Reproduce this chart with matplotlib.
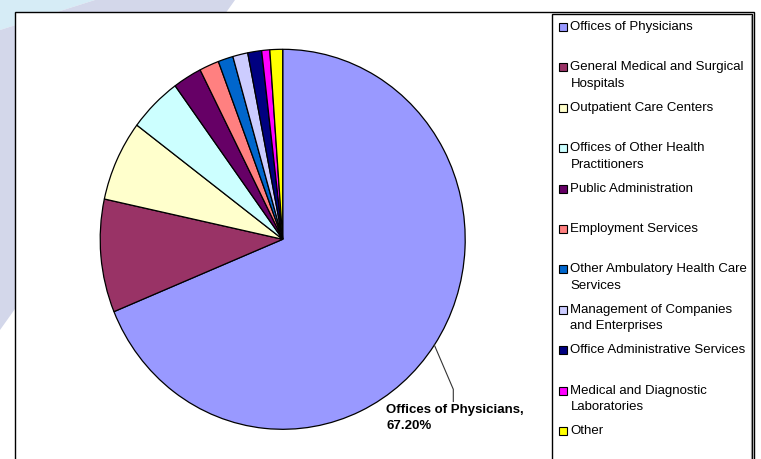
import numpy as np
import matplotlib
matplotlib.use("Agg")
import matplotlib.pyplot as plt
from matplotlib.patches import Rectangle, Polygon
from matplotlib.lines import Line2D

plt.rcParams['font.family'] = ['Liberation Sans', 'DejaVu Sans']

# Employment by industry (share of total)
categories = [
    "Offices of Physicians",
    "General Medical and Surgical Hospitals",
    "Outpatient Care Centers",
    "Offices of Other Health Practitioners",
    "Public Administration",
    "Employment Services",
    "Other Ambulatory Health Care Services",
    "Management of Companies and Enterprises",
    "Office Administrative Services",
    "Medical and Diagnostic Laboratories",
    "Other",
]
values = [67.2, 9.4, 6.7, 4.6, 2.5, 1.7, 1.3, 1.3, 1.2, 0.7, 1.1]
legend_labels = [
    "Offices of Physicians",
    "General Medical and Surgical\nHospitals",
    "Outpatient Care Centers",
    "Offices of Other Health\nPractitioners",
    "Public Administration",
    "Employment Services",
    "Other Ambulatory Health Care\nServices",
    "Management of Companies\nand Enterprises",
    "Office Administrative Services",
    "Medical and Diagnostic\nLaboratories",
    "Other",
]
colors = ["#9999FF", "#993366", "#FFFFCC", "#CCFFFF", "#660066", "#FF8080",
          "#0066CC", "#CCCCFF", "#000080", "#FF00FF", "#FFFF00"]

W, H = 761, 459
fig = plt.figure(figsize=(W / 100, H / 100), dpi=100)
fig.patch.set_facecolor("white")


def px(x, y):
    """Pixel position measured from the top-left corner -> display coords."""
    return (x, H - y)


# faint page decoration behind the chart
fig.patches.append(Polygon([px(0, 0), px(95, 0), px(0, 30)], closed=True,
                           transform=None, facecolor="#d6ecf6", edgecolor="none", zorder=0))
fig.patches.append(Polygon([px(95, 0), px(235, 0), px(0, 330), px(0, 30)], closed=True,
                           transform=None, facecolor="#d3d7ea", edgecolor="none", zorder=0))

# chart area
fig.patches.append(Rectangle(px(15, 480), 739, 468, transform=None,
                             facecolor="white", edgecolor="black", linewidth=1.0, zorder=1))

# pie
cx, cy, rx, ry = 282.7, 239.3, 182.5, 190.0
ax = fig.add_axes([(cx - rx) / W, (H - cy - ry) / H, 2 * rx / W, 2 * ry / H])
ax.set_zorder(2)
wedges, _ = ax.pie(values, colors=colors, startangle=90, counterclock=False,
                   wedgeprops=dict(edgecolor="black", linewidth=0.9))
ax.set_aspect("auto")
ax.set_xlim(-1, 1)
ax.set_ylim(-1, 1)
ax.axis("off")

# callout for the largest slice
w0 = wedges[0]
mid = np.deg2rad((w0.theta1 + w0.theta2) / 2)
start = ax.transData.transform((np.cos(mid), np.sin(mid)))
elbow = px(453.3, 389.3)
end = px(453.3, 401.5)
fig.lines.append(Line2D([start[0], elbow[0], end[0]], [start[1], elbow[1], end[1]],
                        transform=None, color="#333333", linewidth=0.8, zorder=3))
fig.text(386.5 / W, (H - 404) / H, f"{categories[0]},\n{values[0]:.2f}%",
         ha="left", va="top", fontsize=9.5, fontweight="bold", linespacing=1.45, zorder=4)

# legend
lx0, lx1, ltop = 552, 752, 14
fig.patches.append(Rectangle(px(lx0, 480), lx1 - lx0, 480 - ltop, transform=None,
                             facecolor="white", edgecolor="black", linewidth=1.0, zorder=3))
fig.lines.append(Line2D([lx1 - 1.5, lx1 - 1.5], [H - ltop - 2, 0], transform=None,
                        color="#999999", linewidth=0.8, zorder=4))
y0, step, line_h = 27.0, 40.4, 16.7
for i, (lab, col) in enumerate(zip(legend_labels, colors)):
    yc = y0 + i * step
    fig.patches.append(Rectangle(px(558.5, yc + 4), 8, 8, transform=None,
                                 facecolor=col, edgecolor="black", linewidth=0.8, zorder=4))
    for k, line in enumerate(lab.split("\n")):
        fig.text(570.5 / W, (H - (yc + k * line_h)) / H, line, ha="left", va="center",
                 fontsize=9.5, zorder=4)

fig.savefig("out.png", dpi=100)
